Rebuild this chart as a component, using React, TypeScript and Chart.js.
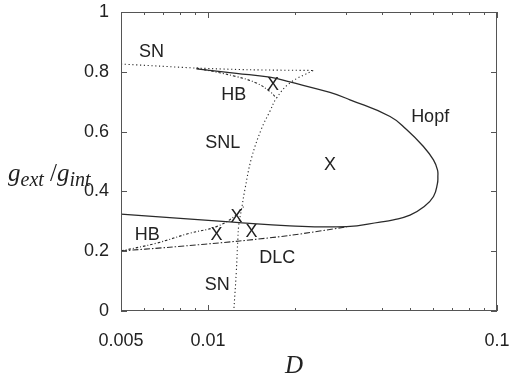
import React, { useEffect, useRef } from 'react';
import { Chart, registerables } from 'chart.js';

Chart.register(...registerables);

// Hopf curve (solid), from lower-left branch round the tip to upper-left end
const hopfD = [0.005, 0.00737, 0.0122, 0.01919, 0.03018, 0.0394, 0.0438, 0.05, 0.0557, 0.0603, 0.0622, 0.06243, 0.06224, 0.06027, 0.05565, 0.04874, 0.04266, 0.03099, 0.02642, 0.01919, 0.01636, 0.01254, 0.00912];
const hopfG = [0.324, 0.3124, 0.297, 0.2846, 0.2825, 0.2975, 0.305, 0.3205, 0.3475, 0.383, 0.426, 0.4496, 0.472, 0.5055, 0.55, 0.606, 0.6505, 0.7064, 0.7308, 0.766, 0.782, 0.795, 0.81];

// SN (upper, dotted) from left axis to the cusp
const snUpD = [0.005, 0.0068, 0.00912, 0.01395, 0.02312];
const snUpG = [0.826, 0.819, 0.8125, 0.8068, 0.8045];

// SNL / SN (dotted) from the cusp down to the bottom axis
const snlD = [0.02312, 0.01919, 0.01726, 0.01636, 0.01531, 0.01414, 0.01341, 0.01305, 0.01278, 0.01268, 0.01253, 0.01228];
const snlG = [0.8045, 0.7623, 0.7121, 0.6672, 0.6093, 0.5112, 0.4051, 0.3381, 0.2879, 0.2377, 0.1309, 0];

// HB upper (dotted)
const hbUpD = [0.00912, 0.01254, 0.01472, 0.01636, 0.01726];
const hbUpG = [0.8125, 0.784, 0.7623, 0.7342, 0.7121];

// HB lower (dotted)
const hbLoD = [0.005, 0.00662, 0.00864, 0.0107, 0.01254, 0.01341];
const hbLoG = [0.2009, 0.2266, 0.2601, 0.2822, 0.3214, 0.3549];

// DLC (dash-dot)
const dlcD = [0.005, 0.00737, 0.01288, 0.01919, 0.03018];
const dlcG = [0.2009, 0.2133, 0.2343, 0.2528, 0.2812];

// axis ticks
const xTickVals = [0.005, 0.01, 0.1];
const xMinorTicks = [0.006, 0.007, 0.008, 0.009, 0.02, 0.03, 0.04, 0.05, 0.06, 0.07, 0.08, 0.09];
const yTickVals = [0, 0.2, 0.4, 0.6, 0.8, 1];

// in-plot annotations
const noteText = ['SN', 'HB', 'SNL', 'Hopf', 'X', 'X', 'X', 'X', 'X', 'HB', 'DLC', 'SN'];
const noteD = [0.00638, 0.01228, 0.01124, 0.0587, 0.02642, 0.0168, 0.01254, 0.0107, 0.01414, 0.00616, 0.01737, 0.01076];
const noteG = [0.867, 0.7231, 0.5624, 0.6495, 0.4888, 0.7566, 0.3157, 0.2544, 0.2655, 0.2544, 0.1774, 0.087];

const pts = (xs: number[], ys: number[]) => xs.map((x, i) => ({ x, y: ys[i] }));

const LINE = '#2a2a2a';
const TEXT = '#222';
const SANS = '"Liberation Sans", Arial, sans-serif';
const SERIF = '"Liberation Serif", "Times New Roman", serif';

const decorPlugin = {
  id: 'decor',
  afterDatasetsDraw(chart: any) {
    const { ctx, chartArea, scales } = chart;
    const { left, right, top, bottom } = chartArea;
    const x = scales.x;
    const y = scales.y;
    ctx.save();
    // frame
    ctx.strokeStyle = '#555';
    ctx.lineWidth = 1;
    ctx.strokeRect(left + 0.5, top + 0.5, right - left - 1, bottom - top - 1);
    // ticks
    ctx.beginPath();
    yTickVals.forEach((v) => {
      const py = Math.round(y.getPixelForValue(v)) + 0.5;
      ctx.moveTo(left, py); ctx.lineTo(left + 6, py);
      ctx.moveTo(right, py); ctx.lineTo(right - 6, py);
    });
    xTickVals.forEach((v) => {
      const px = Math.round(x.getPixelForValue(v)) + 0.5;
      ctx.moveTo(px, bottom); ctx.lineTo(px, bottom - 6);
      ctx.moveTo(px, top); ctx.lineTo(px, top + 6);
    });
    xMinorTicks.forEach((v) => {
      const px = Math.round(x.getPixelForValue(v)) + 0.5;
      ctx.moveTo(px, bottom); ctx.lineTo(px, bottom - 3);
      ctx.moveTo(px, top); ctx.lineTo(px, top + 3);
    });
    ctx.stroke();

    // annotations
    ctx.fillStyle = TEXT;
    ctx.font = `18px ${SANS}`;
    ctx.textAlign = 'center';
    ctx.textBaseline = 'middle';
    noteText.forEach((t, i) => {
      ctx.fillText(t, x.getPixelForValue(noteD[i]), y.getPixelForValue(noteG[i]));
    });

    // x-axis title
    ctx.font = `italic 25px ${SERIF}`;
    ctx.textBaseline = 'alphabetic';
    ctx.fillText('D', 294, 373);

    // y-axis title g_ext / g_int
    ctx.textAlign = 'left';
    let cx = 8;
    const base = 181;
    const big = `italic 25px ${SERIF}`;
    const small = `italic 20px ${SERIF}`;
    const seg = (t: string, f: string, dy: number) => {
      ctx.font = f;
      ctx.fillText(t, cx, base + dy);
      cx += ctx.measureText(t).width;
    };
    seg('g', big, 0);
    seg('ext', small, 5);
    seg(' /', `25px ${SERIF}`, 0);
    seg('g', big, 0);
    seg('int', small, 5);
    ctx.restore();
  },
};

export default function App() {
  const ref = useRef<HTMLCanvasElement | null>(null);
  useEffect(() => {
    document.body.style.margin = '0';
    const canvas = ref.current!;
    const common = { pointRadius: 0, borderColor: LINE, showLine: true, fill: false };
    const chart = new Chart(canvas, {
      type: 'scatter',
      data: {
        datasets: [
          { ...common, label: 'Hopf', data: pts(hopfD, hopfG), borderWidth: 1.3, tension: 0.45 },
          { ...common, label: 'SN', data: pts(snUpD, snUpG), borderWidth: 1.1, borderDash: [1.2, 2.6], tension: 0.3 },
          { ...common, label: 'SNL', data: pts(snlD, snlG), borderWidth: 1.1, borderDash: [1.2, 2.6], tension: 0.4 },
          { ...common, label: 'HB upper', data: pts(hbUpD, hbUpG), borderWidth: 1.1, borderDash: [2.5, 2, 1, 2], tension: 0.4 },
          { ...common, label: 'HB lower', data: pts(hbLoD, hbLoG), borderWidth: 1.1, borderDash: [2.5, 2, 1, 2], tension: 0.4 },
          { ...common, label: 'DLC', data: pts(dlcD, dlcG), borderWidth: 1.1, borderDash: [6, 2, 1.5, 2], tension: 0.3 },
        ],
      },
      options: {
        responsive: false,
        animation: false,
        layout: { padding: { top: 12, right: 13, left: 0, bottom: 0 } },
        plugins: { legend: { display: false }, tooltip: { enabled: false } },
        scales: {
          x: {
            type: 'logarithmic',
            min: 0.005,
            max: 0.1,
            grid: { display: false, drawTicks: false },
            border: { display: false },
            afterBuildTicks: (s: any) => { s.ticks = xTickVals.map((v) => ({ value: v })); },
            afterFit: (s: any) => { s.height = 65; s.paddingLeft = 0; s.paddingRight = 0; },
            ticks: {
              color: TEXT,
              font: { family: SANS, size: 18 },
              padding: 19,
              maxRotation: 0,
              autoSkip: false,
              callback: (v: any) => String(v),
            },
          },
          y: {
            type: 'linear',
            min: 0,
            max: 1,
            grid: { display: false, drawTicks: false },
            border: { display: false },
            afterBuildTicks: (s: any) => { s.ticks = yTickVals.map((v) => ({ value: v })); },
            afterFit: (s: any) => { s.width = 121; s.paddingTop = 0; s.paddingBottom = 0; },
            ticks: {
              color: TEXT,
              font: { family: SANS, size: 18 },
              padding: 12,
              callback: (v: any) => String(parseFloat(Number(v).toFixed(1))),
            },
          },
        },
      },
      plugins: [decorPlugin],
    });
    return () => chart.destroy();
  }, []);
  return (
    <div style={{ width: 510, height: 376, background: '#fff' }}>
      <canvas ref={ref} width={510} height={376} style={{ display: 'block' }} />
    </div>
  );
}
